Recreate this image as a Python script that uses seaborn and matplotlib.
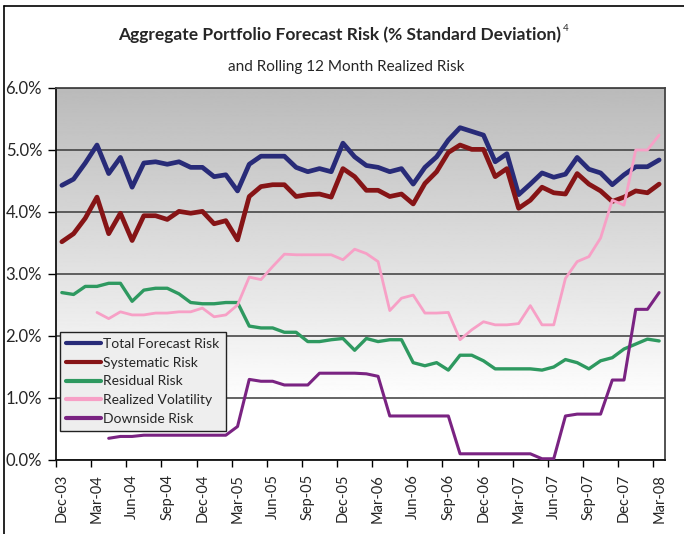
import numpy as np
import pandas as pd
import matplotlib
matplotlib.use('Agg')
import matplotlib.pyplot as plt
import seaborn as sns
from matplotlib.lines import Line2D

nan = np.nan

# monthly values, Dec-03 .. Mar-08 (52 months), in % std dev
total = [4.43, 4.53, 4.79, 5.08, 4.62, 4.88, 4.40, 4.79, 4.81, 4.77,
         4.81, 4.72, 4.72, 4.57, 4.60, 4.34, 4.77, 4.90, 4.90, 4.90,
         4.72, 4.65, 4.70, 4.65, 5.11, 4.89, 4.75, 4.72, 4.65, 4.70,
         4.45, 4.72, 4.89, 5.16, 5.36, 5.30, 5.24, 4.81, 4.94, 4.28,
         4.45, 4.63, 4.56, 4.61, 4.88, 4.69, 4.63, 4.44, 4.60, 4.73,
         4.73, 4.84]
systematic = [3.52, 3.65, 3.90, 4.24, 3.65, 3.98, 3.54, 3.94, 3.94, 3.88,
              4.01, 3.98, 4.01, 3.81, 3.86, 3.55, 4.25, 4.41, 4.44, 4.44,
              4.25, 4.28, 4.29, 4.24, 4.70, 4.57, 4.35, 4.35, 4.25, 4.29,
              4.13, 4.46, 4.65, 4.96, 5.08, 5.01, 5.01, 4.57, 4.70, 4.06,
              4.19, 4.40, 4.31, 4.29, 4.62, 4.45, 4.34, 4.17, 4.24, 4.34,
              4.31, 4.45]
residual = [2.70, 2.67, 2.80, 2.80, 2.85, 2.85, 2.56, 2.74, 2.77, 2.77,
            2.68, 2.54, 2.52, 2.52, 2.54, 2.54, 2.16, 2.13, 2.13, 2.06,
            2.06, 1.91, 1.91, 1.94, 1.96, 1.77, 1.96, 1.91, 1.94, 1.94,
            1.57, 1.52, 1.57, 1.45, 1.69, 1.69, 1.60, 1.47, 1.47, 1.47,
            1.47, 1.45, 1.50, 1.62, 1.57, 1.47, 1.60, 1.65, 1.79, 1.87,
            1.95, 1.92]
realized = [nan, nan, nan, 2.38, 2.28, 2.39, 2.34, 2.34, 2.37, 2.37,
            2.39, 2.39, 2.45, 2.31, 2.34, 2.50, 2.95, 2.91, 3.12, 3.32,
            3.31, 3.31, 3.31, 3.31, 3.23, 3.40, 3.33, 3.20, 2.41, 2.61,
            2.66, 2.37, 2.37, 2.38, 1.94, 2.10, 2.23, 2.18, 2.18, 2.20,
            2.49, 2.18, 2.18, 2.93, 3.20, 3.28, 3.58, 4.19, 4.11, 5.00,
            5.00, 5.24]
downside = [nan, nan, nan, nan, 0.35, 0.38, 0.38, 0.40, 0.40, 0.40,
            0.40, 0.40, 0.40, 0.40, 0.40, 0.54, 1.30, 1.27, 1.27, 1.21,
            1.21, 1.21, 1.40, 1.40, 1.40, 1.40, 1.39, 1.35, 0.71, 0.71,
            0.71, 0.71, 0.71, 0.71, 0.10, 0.10, 0.10, 0.10, 0.10, 0.10,
            0.10, 0.02, 0.02, 0.71, 0.74, 0.74, 0.74, 1.29, 1.29, 2.43,
            2.43, 2.70]

series_names = ['Total Forecast Risk', 'Systematic Risk', 'Residual Risk',
                'Realized Volatility', 'Downside Risk']
tick_labels = ['Dec-03', 'Mar-04', 'Jun-04', 'Sep-04', 'Dec-04', 'Mar-05',
               'Jun-05', 'Sep-05', 'Dec-05', 'Mar-06', 'Jun-06', 'Sep-06',
               'Dec-06', 'Mar-07', 'Jun-07', 'Sep-07', 'Dec-07', 'Mar-08']
y_labels = ['0.0%', '1.0%', '2.0%', '3.0%', '4.0%', '5.0%', '6.0%']

colors = ['#282b78', '#861416', '#2e9960', '#f7a0c6', '#7a2382']
widths = [3.4, 3.4, 2.4, 2.0, 2.2]

df = pd.DataFrame({'month': np.arange(len(total)),
                   series_names[0]: total, series_names[1]: systematic,
                   series_names[2]: residual, series_names[3]: realized,
                   series_names[4]: downside})
long = df.melt(id_vars='month', var_name='series', value_name='risk').dropna()

sns.set_style('white')
plt.rcParams['font.family'] = ['Lato', 'DejaVu Sans']

fig = plt.figure(figsize=(6.84, 5.34), dpi=100)
ax = fig.add_axes([56/684, 1 - 460/534, 609/684, 372/534])

# grey-to-white background gradient
yy = np.linspace(0, 6, 400)
shade = np.clip(1 - (yy - 0.9) / 5.1 * 0.27, 0.73, 1.0).reshape(-1, 1)
ax.imshow(shade, extent=[-0.5, len(total) - 0.5, 0, 6], origin='lower',
          aspect='auto', cmap='gray', vmin=0, vmax=1, zorder=0)

for name, c, lw in zip(series_names, colors, widths):
    sns.lineplot(data=long[long['series'] == name], x='month', y='risk',
                 color=c, lw=lw, ax=ax, label=name, zorder=3)

ax.set_xlim(-0.5, len(total) - 0.5)
ax.set_ylim(0, 6)
ax.set_xlabel('')
ax.set_ylabel('')

ax.set_yticks(range(7))
ax.set_yticklabels(y_labels, fontsize=12)
ax.yaxis.grid(True, color='#3a3a3a', lw=1.1)
ax.tick_params(axis='y', direction='out', length=6, width=1, color='k',
               pad=4, left=True)

ax.set_xticks(range(0, len(total), 3))
ax.set_xticklabels(tick_labels, rotation=90, fontsize=10.5)
ax.set_xticks(np.arange(-0.5, len(total) - 1, 3), minor=True)
ax.tick_params(axis='x', which='major', length=0, pad=10)
ax.tick_params(axis='x', which='minor', direction='out', length=5,
               width=1, color='k', bottom=True)

for side in ['top', 'right']:
    ax.spines[side].set_color('#444444')
    ax.spines[side].set_linewidth(1.3)
for side in ['left', 'bottom']:
    ax.spines[side].set_color('#111111')
    ax.spines[side].set_linewidth(1.3)

leg = ax.legend(loc='lower left', bbox_to_anchor=(4/609, (460 - 431)/372),
                borderaxespad=0, fancybox=False, edgecolor='#222222',
                facecolor='#eeeeee', framealpha=1, fontsize=10,
                handlelength=2.5, handletextpad=0.15, labelspacing=0.48,
                borderpad=0.45)
leg.get_frame().set_linewidth(1.0)
for h in leg.get_lines():
    h.set_linewidth(3.0)

title = fig.text(0.497, 1 - 35/534,
                 'Aggregate Portfolio Forecast Risk (% Standard Deviation)',
                 ha='center', va='center', fontsize=12.5, fontweight='bold')
fig.text(0.506, 1 - 67/534, 'and Rolling 12 Month Realized Risk',
         ha='center', va='center', fontsize=11)

fig.canvas.draw()
bb = title.get_window_extent().transformed(fig.transFigure.inverted())
fig.text(bb.x1 + 0.002, bb.y1 + 0.006, '4', ha='left', va='top', fontsize=7)

# outer frame (top and left edges)
fig.add_artist(Line2D([4/684, 4/684], [0, 1 - 6/534], transform=fig.transFigure,
                      color='k', lw=1.2))
fig.add_artist(Line2D([4/684, 1], [1 - 6/534, 1 - 6/534], transform=fig.transFigure,
                      color='k', lw=1.2))

fig.savefig('out.png', dpi=100)
